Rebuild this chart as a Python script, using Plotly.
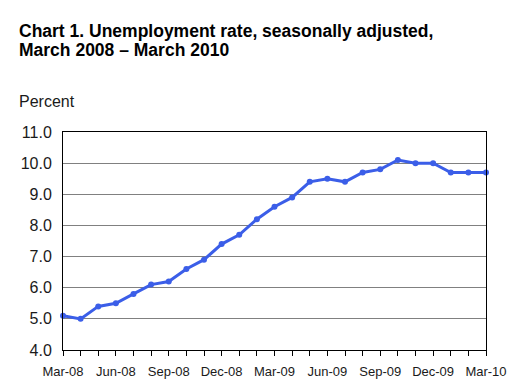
import plotly.graph_objects as go

months = ["Mar-08", "Apr-08", "May-08", "Jun-08", "Jul-08", "Aug-08", "Sep-08",
          "Oct-08", "Nov-08", "Dec-08", "Jan-09", "Feb-09", "Mar-09", "Apr-09",
          "May-09", "Jun-09", "Jul-09", "Aug-09", "Sep-09", "Oct-09", "Nov-09",
          "Dec-09", "Jan-10", "Feb-10", "Mar-10"]
rate = [5.1, 5.0, 5.4, 5.5, 5.8, 6.1, 6.2, 6.6, 6.9, 7.4, 7.7, 8.2, 8.6, 8.9,
        9.4, 9.5, 9.4, 9.7, 9.8, 10.1, 10.0, 10.0, 9.7, 9.7, 9.7]
tick_labels = [m if m[:3] in ("Mar", "Jun", "Sep", "Dec") else "" for m in months]
y_ticks = [4, 5, 6, 7, 8, 9, 10, 11]
y_tick_text = ["%.1f" % v for v in y_ticks]
title_lines = ["Chart 1. Unemployment rate, seasonally adjusted,",
               "March 2008 \u2013 March 2010"]

FONT = "Arial, Liberation Sans, sans-serif"
BLUE = "#3b5ee8"
TXT = "#1a1a1a"

L, R, T, B, W, H = 63, 486, 132, 350, 511, 391
PW, PH = R - L, B - T

def px_x(x):
    return (x - L) / PW

def px_y(y):
    return (B - y) / PH

fig = go.Figure()
fig.add_trace(go.Scatter(
    x=months, y=rate, mode="lines+markers",
    line=dict(color=BLUE, width=3),
    marker=dict(color=BLUE, size=6),
    cliponaxis=False, hoverinfo="x+y", showlegend=False,
))

annotations = []
for i, line in enumerate(title_lines):
    annotations.append(dict(
        text="<b>%s</b>" % line, xref="paper", yref="paper",
        x=px_x(17), y=px_y(31 + 19 * i), xanchor="left", yanchor="middle",
        showarrow=False, font=dict(family=FONT, size=17.5, color="black"),
    ))
annotations.append(dict(
    text="Percent", xref="paper", yref="paper",
    x=px_x(17), y=px_y(101),
    xanchor="left", yanchor="middle", showarrow=False,
    font=dict(family=FONT, size=16, color=TXT),
))

fig.update_layout(
    width=W, height=H,
    margin=dict(l=L, r=W - R, t=T, b=H - B, autoexpand=False),
    paper_bgcolor="white", plot_bgcolor="white",
    font=dict(family=FONT, color=TXT, size=14),
    xaxis=dict(
        type="category", range=[0, 24], automargin=False,
        tickmode="array", tickvals=months, ticktext=tick_labels,
        ticks="outside", ticklen=5, tickcolor="black", tickwidth=1,
        ticklabelstandoff=4,
        showgrid=False, showline=True, linecolor="black", linewidth=1, mirror=True,
        tickfont=dict(size=13, color=TXT), tickangle=0,
    ),
    yaxis=dict(
        range=[4, 11], automargin=False,
        tickmode="array", tickvals=y_ticks, ticktext=y_tick_text,
        showgrid=True, gridcolor="#808080", gridwidth=1,
        showline=True, linecolor="black", linewidth=1, mirror=True,
        ticks="", ticklabelstandoff=7,
        tickfont=dict(size=16, color=TXT), zeroline=False,
    ),
    annotations=annotations,
)

fig.write_html("out.html", config={"displayModeBar": False},
               post_script="document.body.style.margin='0';document.body.style.padding='0';")
